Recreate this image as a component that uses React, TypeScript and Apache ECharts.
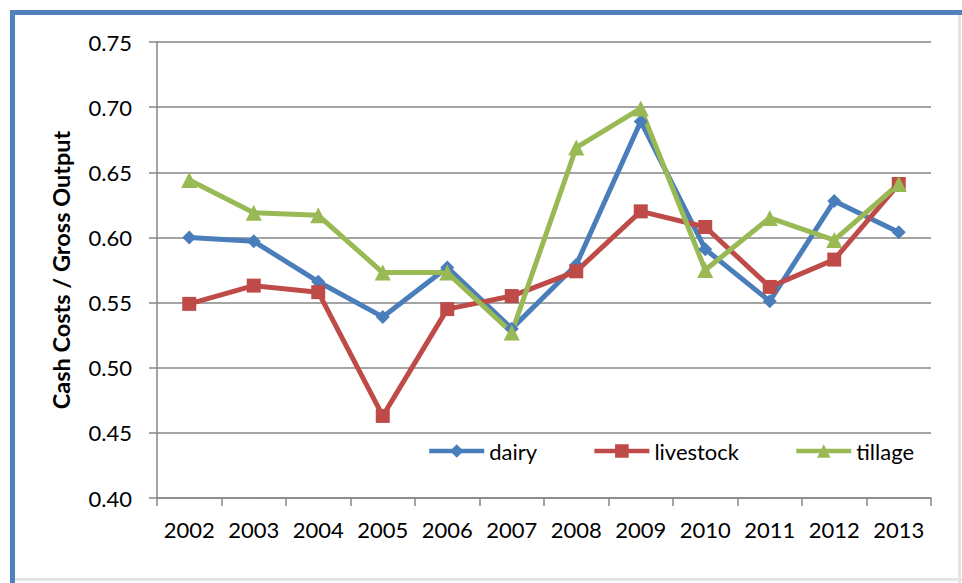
import React, { useEffect, useRef } from "react";
import * as echarts from "echarts";

const years = ["2002", "2003", "2004", "2005", "2006", "2007", "2008", "2009", "2010", "2011", "2012", "2013"];
const dairy = [0.600, 0.597, 0.566, 0.539, 0.577, 0.530, 0.579, 0.689, 0.591, 0.551, 0.628, 0.604];
const livestock = [0.549, 0.563, 0.558, 0.463, 0.545, 0.555, 0.574, 0.620, 0.608, 0.562, 0.583, 0.641];
const tillage = [0.644, 0.619, 0.617, 0.573, 0.573, 0.527, 0.669, 0.699, 0.575, 0.615, 0.598, 0.641];
const yTitle = "Cash Costs / Gross Output";

const FONT = "Lato, 'Open Sans', sans-serif";

export default function App() {
  const ref = useRef<HTMLDivElement>(null);
  useEffect(() => {
    const chart = echarts.init(ref.current!, null, { renderer: "svg" });
    const mk = (name: string, data: number[], color: string, symbol: string, size: number) => ({
      name,
      type: "line",
      data,
      symbol,
      symbolSize: size,
      showSymbol: true,
      lineStyle: { color, width: 5 },
      itemStyle: { color },
    });
    chart.setOption({
      animation: false,
      backgroundColor: "#ffffff",
      textStyle: { fontFamily: FONT },
      grid: { left: 157, right: 31, top: 42, bottom: 85, containLabel: false },
      graphic: [
        { type: "rect", shape: { x: 958, y: 14, width: 3, height: 569 }, style: { fill: "#e4e4e4" }, z: 0 },
        { type: "rect", shape: { x: 14, y: 578, width: 948, height: 3 }, style: { fill: "#e4e4e4" }, z: 0 },
        { type: "rect", shape: { x: 10, y: 10, width: 952, height: 5 }, style: { fill: "#4f81bd" }, z: 10 },
        { type: "rect", shape: { x: 10, y: 10, width: 5, height: 573 }, style: { fill: "#4f81bd" }, z: 10 },
      ],
      legend: {
        left: 422,
        top: 435,
        itemWidth: 55,
        itemHeight: 17,
        itemGap: 55,
        lineStyle: { width: 4.5 },
        textStyle: { fontSize: 22, color: "#000", fontFamily: FONT },
        data: ["dairy", "livestock", "tillage"],
      },
      xAxis: {
        type: "category",
        data: years,
        boundaryGap: true,
        axisLine: { lineStyle: { color: "#868686", width: 1.5 } },
        axisTick: { show: true, length: 8, interval: 0, lineStyle: { color: "#868686", width: 1.5 } },
        axisLabel: { fontSize: 22, color: "#000", margin: 20, fontFamily: FONT, interval: 0 },
      },
      yAxis: {
        type: "value",
        min: 0.4,
        max: 0.75,
        interval: 0.05,
        name: yTitle,
        nameLocation: "middle",
        nameGap: 84,
        nameTextStyle: { fontSize: 23.5, fontWeight: "bold", color: "#000", fontFamily: FONT },
        axisLine: { show: true, lineStyle: { color: "#868686", width: 1.5 } },
        axisTick: { show: true, length: 8, lineStyle: { color: "#868686", width: 1.5 } },
        axisLabel: { fontSize: 22, color: "#000", margin: 25, fontFamily: FONT, formatter: (v: number) => v.toFixed(2) },
        splitLine: { lineStyle: { color: "#868686", width: 1.5 } },
      },
      series: [
        mk("dairy", dairy, "#4a7ebb", "diamond", 14),
        mk("livestock", livestock, "#be4b48", "rect", 14),
        mk("tillage", tillage, "#98b954", "triangle", 16),
      ],
    });
    return () => chart.dispose();
  }, []);
  return (
    <div style={{ position: "fixed", left: 0, top: 0, width: 962, height: 583, background: "#fff" }}>
      <div ref={ref} style={{ width: 962, height: 583 }} />
    </div>
  );
}
